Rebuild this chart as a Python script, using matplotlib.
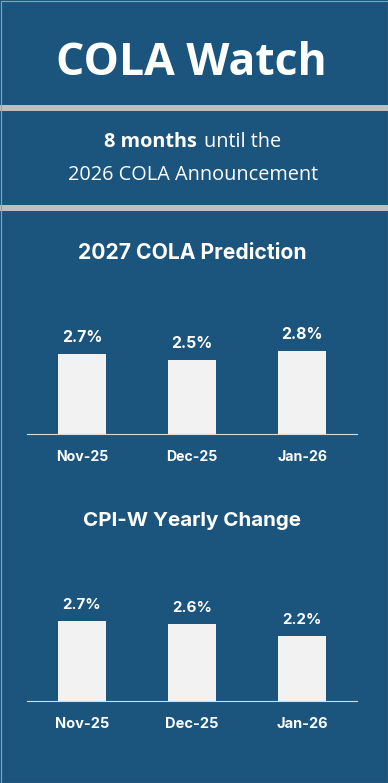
import matplotlib
matplotlib.use("Agg")
import matplotlib.pyplot as plt
from matplotlib.patches import Rectangle

# ---------------------------------------------------------------- data
months = ["Nov-25", "Dec-25", "Jan-26"]
cola_prediction = [2.7, 2.5, 2.8]
cpiw_change = [2.7, 2.6, 2.2]

title = "COLA Watch"
months_left = "8 months"
sub_rest = "until the"
sub_line2 = "2026 COLA Announcement"
chart1_title = "2027 COLA Prediction"
chart2_title = "CPI-W Yearly Change"

# ---------------------------------------------------------------- style
W, H = 388, 783
BG = "#1B557D"
SEP = "#BFBFBF"
BAR = "#F2F2F2"
AXIS = "#D9D9D9"
head_font = "Open Sans"
chart_font = "Inter"

fig = plt.figure(figsize=(W / 100, H / 100), dpi=100, facecolor=BG)

# layout axis in pixel units (y down)
bg = fig.add_axes([0, 0, 1, 1])
bg.set_xlim(0, W)
bg.set_ylim(H, 0)
bg.axis("off")
bg.add_patch(Rectangle((0, 105), W, 6, color=SEP, lw=0))
bg.add_patch(Rectangle((0, 205), W, 6, color=SEP, lw=0))
bg.add_patch(Rectangle((0.5, 0.5), W - 1, H - 1, fill=False, ec="#8AA2B6", lw=0.8))

bg.text(191, 75, title, color="white", fontsize=32, fontweight="bold",
        family=head_font, ha="center", va="baseline")

# first subtitle line: bold part + regular part, centred together
renderer = fig.canvas.get_renderer()
t_bold = bg.text(0, 147, months_left, color="white", fontsize=14.3,
                 fontweight="bold", family=head_font, ha="left", va="baseline")
t_reg = bg.text(0, 147, sub_rest, color="white", fontsize=14.3,
                family=head_font, ha="left", va="baseline")
w_bold = t_bold.get_window_extent(renderer).width
w_reg = t_reg.get_window_extent(renderer).width
gap = 7
x0 = 192.5 - (w_bold + gap + w_reg) / 2
t_bold.set_x(x0)
t_reg.set_x(x0 + w_bold + gap)

bg.text(193, 180, sub_line2, color="white", fontsize=14.3,
        family=head_font, ha="center", va="baseline")

bg.text(192, 259, chart1_title, color="white", fontsize=15.2, fontweight="bold",
        family=chart_font, ha="center", va="baseline")
bg.text(192, 526, chart2_title, color="white", fontsize=14.8, fontweight="bold",
        family=chart_font, ha="center", va="baseline")


def bar_panel(baseline_px, values, tick_size, value_size):
    px_per_unit = 29.6
    height_px = 130
    ax = fig.add_axes([27 / W, (H - baseline_px) / H, 330 / W, height_px / H])
    ax.set_facecolor("none")
    x = list(range(len(values)))
    bars = ax.bar(x, values, width=0.445, color=BAR, zorder=2)
    ax.set_xlim(-0.5, len(values) - 0.5)
    ax.set_ylim(0, height_px / px_per_unit)
    for s in ["top", "right", "left"]:
        ax.spines[s].set_visible(False)
    ax.spines["bottom"].set_color(AXIS)
    ax.spines["bottom"].set_linewidth(0.8)
    ax.set_yticks([])
    ax.set_xticks([])
    for i, m in zip(x, months):
        ax.annotate(m, (i, 0), xytext=(0, -19.4), textcoords="offset points",
                    ha="center", va="baseline", color="white",
                    fontsize=tick_size, fontweight="bold", family=chart_font,
                    annotation_clip=False)
    for b, v in zip(bars, values):
        ax.annotate(f"{v:.1f}%", (b.get_x() + b.get_width() / 2, v),
                    xytext=(0, 8.6), textcoords="offset points",
                    ha="center", va="baseline", color="white",
                    fontsize=value_size, fontweight="bold", family=chart_font)
    return ax


bar_panel(434, cola_prediction, 10.2, 11.4)
bar_panel(701, cpiw_change, 10.5, 10.9)

fig.savefig("out.png", dpi=100, facecolor=BG)
